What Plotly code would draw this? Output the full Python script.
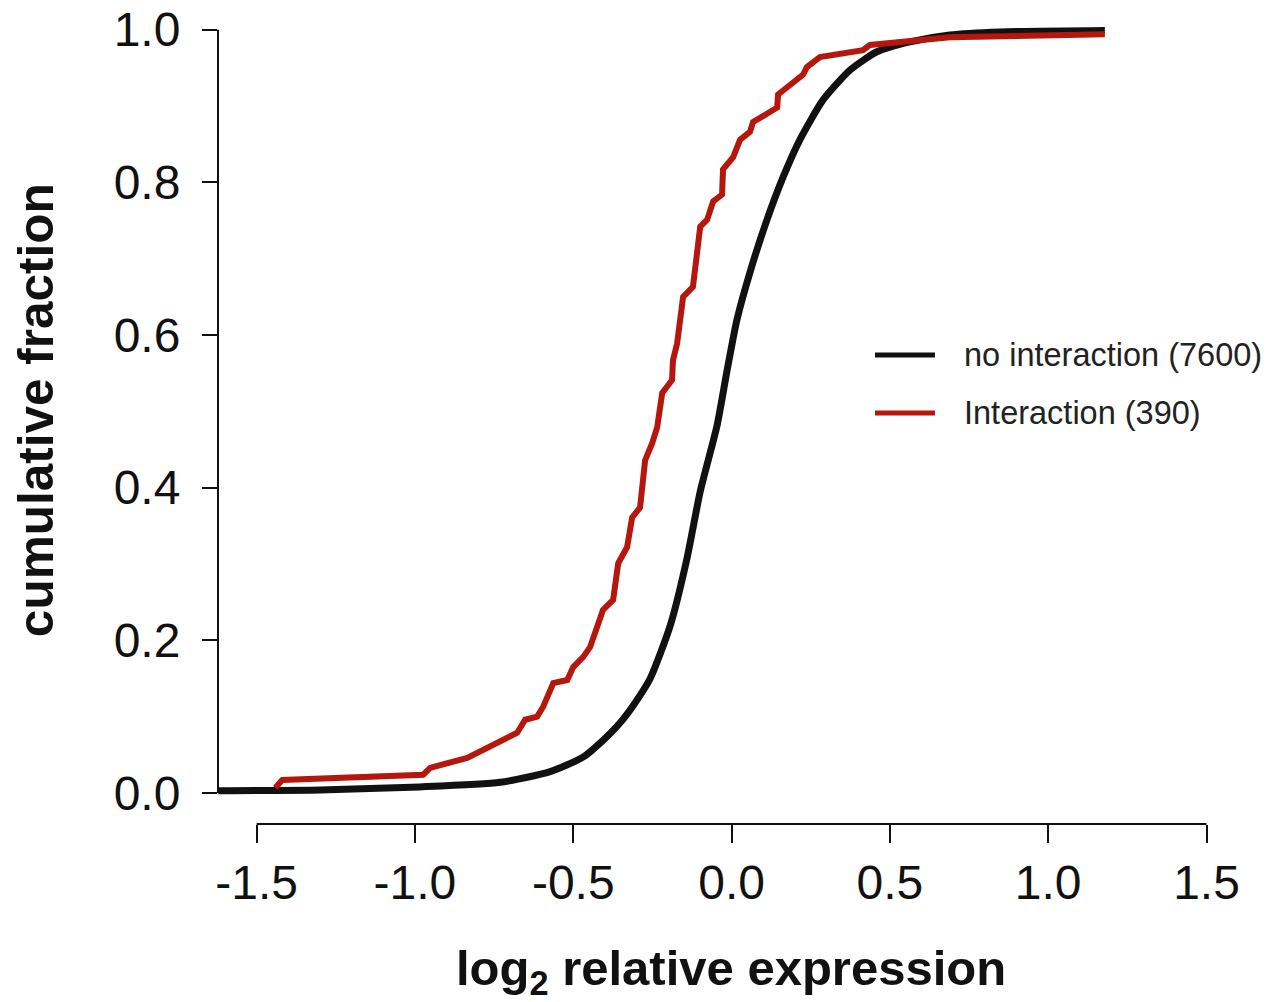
import plotly.graph_objects as go

# ---- data ----
black_x = [-1.621, -1.299, -0.984, -0.731, -0.573, -0.469, -0.406, -0.352, -0.305, -0.257,
           -0.194, -0.141, -0.099, -0.046, -0.014, 0.017, 0.058, 0.112, 0.163, 0.216,
           0.289, 0.374, 0.459, 0.563, 0.689, 0.848, 1.179]
black_y = [0.003, 0.004, 0.008, 0.014, 0.028, 0.047, 0.069, 0.092, 0.118, 0.150,
           0.219, 0.307, 0.395, 0.481, 0.554, 0.620, 0.682, 0.751, 0.807, 0.856,
           0.908, 0.947, 0.971, 0.984, 0.993, 0.997, 0.999]

red_x = [-1.441, -1.419, -0.974, -0.952, -0.835, -0.816, -0.763, -0.677, -0.652, -0.614,
         -0.595, -0.573, -0.563, -0.519, -0.500, -0.469, -0.447, -0.425, -0.406, -0.374,
         -0.358, -0.330, -0.314, -0.289, -0.273, -0.251, -0.235, -0.219, -0.188, -0.185,
         -0.172, -0.153, -0.122, -0.099, -0.077, -0.058, -0.030, -0.027, 0.005, 0.027,
         0.058, 0.068, 0.144, 0.147, 0.185, 0.226, 0.238, 0.279, 0.415, 0.437,
         0.690, 1.179]
red_y = [0.007, 0.017, 0.024, 0.033, 0.046, 0.050, 0.060, 0.079, 0.096, 0.100,
         0.113, 0.135, 0.144, 0.148, 0.165, 0.178, 0.191, 0.217, 0.240, 0.253,
         0.301, 0.322, 0.361, 0.374, 0.436, 0.458, 0.479, 0.524, 0.541, 0.567,
         0.589, 0.650, 0.663, 0.742, 0.751, 0.775, 0.784, 0.817, 0.833, 0.856,
         0.866, 0.879, 0.898, 0.915, 0.928, 0.941, 0.951, 0.964, 0.973, 0.980,
         0.990, 0.994]

x_ticks = [-1.5, -1.0, -0.5, 0.0, 0.5, 1.0, 1.5]
x_ticklabels = ["-1.5", "-1.0", "-0.5", "0.0", "0.5", "1.0", "1.5"]
y_ticks = [0.0, 0.2, 0.4, 0.6, 0.8, 1.0]
y_ticklabels = ["0.0", "0.2", "0.4", "0.6", "0.8", "1.0"]

series_names = ["no interaction (7600)", "Interaction (390)"]
BLACK = "#111111"
RED = "#B5170C"
FONT = "Liberation Sans, Arial, sans-serif"

fig = go.Figure()
fig.add_trace(go.Scatter(x=black_x, y=black_y, mode="lines", name=series_names[0],
                         line=dict(color=BLACK, width=7, shape="spline", smoothing=0.6),
                         showlegend=False))
fig.add_trace(go.Scatter(x=red_x, y=red_y, mode="lines", name=series_names[1],
                         line=dict(color=RED, width=6),
                         showlegend=False))

# axis lines in R style (detached)
fig.add_shape(type="line", xref="paper", yref="y", x0=0, x1=0, y0=0, y1=1,
              line=dict(color=BLACK, width=2))
fig.add_shape(type="line", xref="x", yref="paper", x0=-1.5, x1=1.5, y0=0, y1=0,
              line=dict(color=BLACK, width=2))

# legend
leg_y = [0.5848, 0.5125]
for name, col, ly in zip(series_names, [BLACK, RED], leg_y):
    fig.add_shape(type="line", xref="paper", yref="paper", x0=0.6583, x1=0.7184,
                  y0=ly, y1=ly, line=dict(color=col, width=5))
    fig.add_annotation(xref="paper", yref="paper", x=0.7455, y=ly, text=name,
                       showarrow=False, xanchor="left", yanchor="middle",
                       font=dict(family=FONT, size=32.5, color="#222222"))

# axis titles
fig.add_annotation(xref="paper", yref="paper", x=0.514, y=-0.1845,
                   text="<b>log<sub>2</sub> relative expression</b>", showarrow=False,
                   xanchor="center", yanchor="middle",
                   font=dict(family=FONT, size=49, color=BLACK))
fig.add_annotation(xref="paper", yref="paper", x=-0.1834, y=0.516,
                   text="<b>cumulative fraction</b>", showarrow=False, textangle=-90,
                   xanchor="center", yanchor="middle",
                   font=dict(family=FONT, size=49.5, color=BLACK))

fig.update_xaxes(range=[-1.622, 1.53], tickvals=x_ticks, ticktext=x_ticklabels,
                 ticks="outside", ticklen=18, tickwidth=2, tickcolor=BLACK,
                 showline=False, showgrid=False, zeroline=False, automargin=False,
                 ticklabelstandoff=-2, ticklabeloverflow="allow",
                 tickfont=dict(family=FONT, size=48, color=BLACK))
fig.update_yaxes(range=[-0.0406, 1.01], tickvals=y_ticks, ticktext=y_ticklabels,
                 ticks="outside", ticklen=15, tickwidth=2, tickcolor=BLACK,
                 showline=False, showgrid=False, zeroline=False, automargin=False,
                 ticklabelstandoff=12, ticklabeloverflow="allow",
                 tickfont=dict(family=FONT, size=48, color=BLACK))

fig.update_layout(width=1278, height=1002,
                  margin=dict(l=218, r=62, t=22, b=178),
                  plot_bgcolor="white", paper_bgcolor="white")

# remove the default 8px page margin so the figure fills the window exactly
fig.write_html("out.html", config={"displayModeBar": False},
               post_script="document.body.style.margin='0';document.body.style.overflow='hidden';")
